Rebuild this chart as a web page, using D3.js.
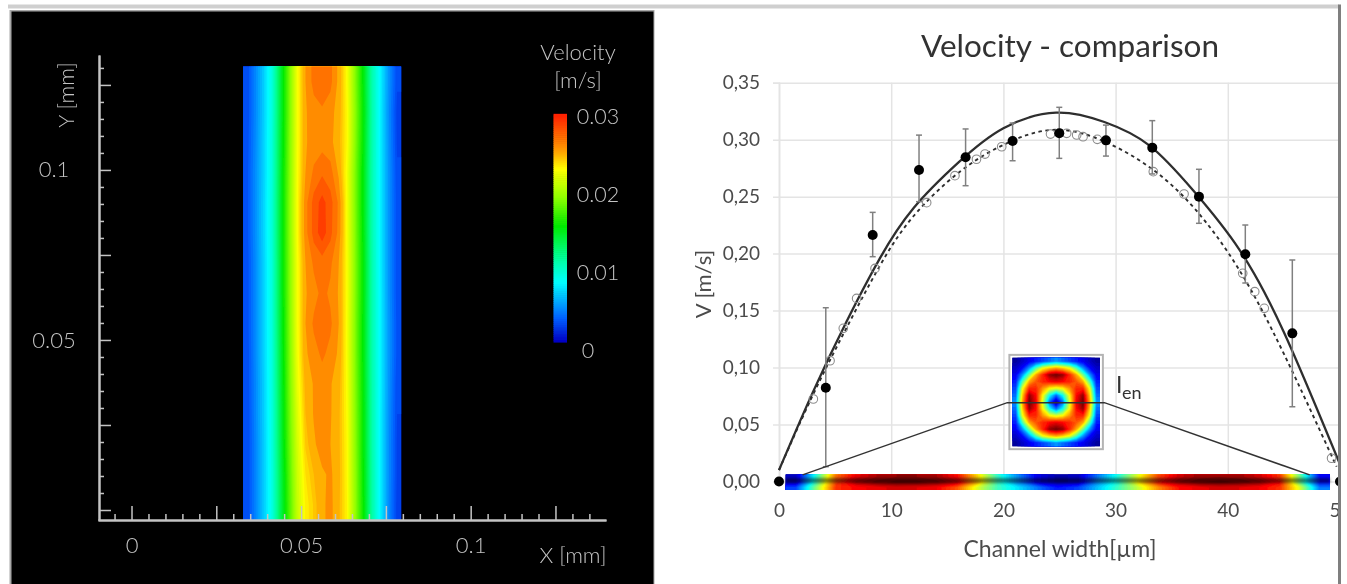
<!DOCTYPE html>
<html>
<head>
<meta charset="utf-8">
<title>Velocity</title>
<script src="https://cdn.jsdelivr.net/npm/d3@7"></script>
<style>
  html, body { margin: 0; padding: 0; background: #fff; overflow: hidden; }
  svg { display: block; }
  text { font-family: Lato, "Open Sans", sans-serif; }
</style>
</head>
<body>
<div id="chart"></div>
<script>
// left panel, velocity field in mm/s (rows top to bottom, columns left to right)
var fieldXExtent = [0.0329, 0.0795],
  fieldYExtent = [0.1304, -0.0029];
var fieldRows = [
  [3.6, 5.4, 7.5, 10.0, 14.5, 18.8, 23.0, 26.0, 27.4, 27.9, 27.3, 25.7, 23.2, 19.4, 15.6, 11.4, 8.6, 5.8, 3.6],
  [3.6, 5.4, 7.5, 10.0, 14.5, 18.8, 23.0, 25.9, 26.5, 26.8, 26.4, 25.5, 23.4, 19.6, 15.8, 11.5, 8.5, 5.6, 3.3],
  [3.7, 5.5, 7.6, 10.1, 14.6, 18.9, 23.0, 25.9, 26.4, 26.6, 26.3, 25.3, 23.4, 19.5, 15.7, 11.4, 8.5, 5.7, 3.4],
  [3.8, 5.6, 7.6, 10.1, 14.7, 19.0, 23.1, 26.0, 27.2, 27.8, 27.4, 25.8, 23.0, 19.2, 15.5, 11.3, 8.5, 5.8, 3.6],
  [3.8, 5.6, 7.7, 10.2, 14.8, 19.1, 23.2, 26.6, 28.4, 29.4, 28.4, 26.8, 23.1, 19.2, 15.5, 11.3, 8.5, 5.8, 3.7],
  [3.8, 5.6, 7.7, 10.2, 14.8, 19.1, 23.2, 26.6, 28.4, 29.6, 28.3, 26.7, 23.1, 19.3, 15.6, 11.3, 8.5, 5.8, 3.7],
  [3.7, 5.5, 7.6, 10.1, 14.7, 19.0, 23.0, 26.0, 27.2, 27.5, 27.2, 26.0, 23.2, 19.4, 15.7, 11.4, 8.5, 5.8, 3.7],
  [3.7, 5.5, 7.6, 10.1, 14.7, 19.0, 23.0, 25.9, 26.6, 27.3, 26.8, 25.9, 23.2, 19.4, 15.7, 11.4, 8.6, 5.8, 3.7],
  [3.7, 5.5, 7.6, 10.1, 14.6, 18.9, 23.0, 26.0, 27.2, 27.9, 27.2, 26.0, 23.1, 19.3, 15.6, 11.4, 8.6, 5.9, 3.8],
  [3.6, 5.5, 7.6, 10.0, 14.5, 18.8, 22.9, 25.8, 26.6, 27.2, 26.7, 25.8, 23.1, 19.3, 15.6, 11.4, 8.6, 5.9, 3.8],
  [3.6, 5.4, 7.5, 10.0, 14.4, 18.7, 22.6, 25.3, 26.1, 26.5, 26.1, 25.4, 23.2, 19.4, 15.7, 11.5, 8.6, 5.8, 3.6],
  [3.5, 5.4, 7.5, 9.9, 14.3, 18.5, 22.2, 25.0, 26.1, 26.8, 26.1, 25.2, 23.3, 19.5, 15.8, 11.5, 8.5, 5.7, 3.5],
  [3.5, 5.3, 7.4, 9.9, 14.2, 18.3, 21.9, 24.6, 25.8, 26.6, 26.0, 25.2, 23.4, 19.6, 15.8, 11.5, 8.5, 5.6, 3.4],
  [3.5, 5.3, 7.4, 9.8, 14.0, 18.0, 21.6, 24.0, 25.0, 25.8, 26.2, 25.3, 23.4, 19.7, 15.9, 11.6, 8.5, 5.6, 3.4],
  [3.5, 5.3, 7.4, 9.8, 13.9, 17.8, 21.4, 23.6, 24.6, 25.8, 26.3, 25.2, 23.5, 19.8, 16.0, 11.6, 8.5, 5.5, 3.3]
];
var fieldLevels = [1, 2, 3, 3.5, 4, 4.5, 5, 5.5, 6, 6.5, 7, 7.5, 8, 8.5, 9, 9.5, 10, 10.5, 11, 11.5, 12, 12.5, 13, 13.5, 14, 14.5, 15, 15.5, 16, 16.5, 17, 17.5, 18, 18.5, 19, 19.5, 20, 20.5, 21, 21.5, 22, 22.5, 23, 23.5, 24, 24.5, 25, 26, 27, 28, 29];
var legendStops = [1, 4, 8.6, 12, 15.8, 19.5, 23.1, 25, 26, 28, 30],
  legendColors = ['#0000c4', '#0060ff', '#00ffff', '#00ff90', '#00ea00', '#90ff00', '#ffff00', '#ffb000', '#ff8c00', '#ff5800', '#ff2000'];
var legendTicks = [0, 10, 20, 30],
  legendLabels = ['0', '0.01', '0.02', '0.03'];
var fieldMajorY = [0, 0.025, 0.05, 0.075, 0.1, 0.125],
  fieldMinorY = [0.005, 0.01, 0.015, 0.02, 0.03, 0.035, 0.04, 0.045, 0.055, 0.06, 0.065, 0.07, 0.08, 0.085, 0.09, 0.095, 0.105, 0.11, 0.115, 0.12, 0.13],
  fieldLabelsY = ['', '', '0.05', '', '0.1', ''];
var fieldMajorX = [0, 0.025, 0.05, 0.075, 0.1, 0.125],
  fieldMinorX = [-0.005, 0.005, 0.01, 0.015, 0.02, 0.03, 0.035, 0.04, 0.045, 0.055, 0.06, 0.065, 0.07, 0.08, 0.085, 0.09, 0.095, 0.105, 0.11, 0.115, 0.12, 0.13, 0.135],
  fieldLabelsX = ['0', '', '0.05', '', '0.1', ''];

// right panel, channel width in um and velocity in m/s
var widthTicks = [0, 10, 20, 30, 40, 50],
  velocityTicks = [0, 0.05, 0.1, 0.15, 0.2, 0.25, 0.3, 0.35],
  velocityLabels = ['0,00', '0,05', '0,10', '0,15', '0,20', '0,25', '0,30', '0,35'];
var solidX = [0, 3, 6, 9, 12, 16, 20, 24.7, 29, 33, 37, 41, 45, 50],
  solidV = [0.01, 0.078, 0.14, 0.196, 0.24, 0.28, 0.31, 0.3237, 0.3155, 0.295, 0.2545, 0.204, 0.131, 0.015];
var dashedX = [0, 3, 6, 9, 12, 16, 20, 24.2, 28.5, 33, 37, 41, 45, 49.7],
  dashedV = [0.01, 0.0755, 0.1345, 0.1895, 0.233, 0.271, 0.2955, 0.3085, 0.3005, 0.276, 0.24, 0.186, 0.112, 0.013];
var openX = [3.06, 4.55, 5.73, 6.92, 8.56, 13.16, 15.68, 17.6, 18.36, 19.85, 24.2, 25.64, 26.53, 27.1, 28.37, 33.36, 36.1, 41.33, 42.4, 43.25, 49.25],
  openV = [0.0724, 0.106, 0.1344, 0.1607, 0.187, 0.2447, 0.2684, 0.2828, 0.2874, 0.2938, 0.3049, 0.3056, 0.3041, 0.3026, 0.3003, 0.2719, 0.2523, 0.1827, 0.1666, 0.152, 0.0204];
var measuredX = [0, 4.17, 8.35, 12.48, 16.63, 20.82, 24.98, 29.14, 33.27, 37.43, 41.56, 45.75, 50],
  measuredV = [0, 0.0823, 0.2163, 0.2734, 0.2845, 0.2988, 0.3056, 0.2994, 0.293, 0.25, 0.1994, 0.13, 0],
  measuredHigh = [0, 0.1525, 0.2362, 0.304, 0.3094, 0.3146, 0.3284, 0.3128, 0.3167, 0.274, 0.2251, 0.1944, 0],
  measuredLow = [0, 0.013, 0.1973, 0.2456, 0.2596, 0.2815, 0.2836, 0.2856, 0.2699, 0.2266, 0.1742, 0.0656, 0];

// cross section colour values, 0 to 1 on the jet map
var insetRows = [
  [0.04, 0.08, 0.12, 0.16, 0.20, 0.24, 0.28, 0.24, 0.20, 0.16, 0.12, 0.08, 0.04],
  [0.08, 0.14, 0.28, 0.46, 0.62, 0.68, 0.72, 0.68, 0.62, 0.46, 0.28, 0.14, 0.08],
  [0.12, 0.28, 0.50, 0.72, 0.85, 0.97, 1.00, 0.97, 0.85, 0.72, 0.50, 0.28, 0.12],
  [0.16, 0.46, 0.72, 0.80, 0.85, 0.88, 0.90, 0.88, 0.85, 0.80, 0.72, 0.46, 0.16],
  [0.20, 0.62, 0.85, 0.85, 0.74, 0.64, 0.60, 0.64, 0.74, 0.85, 0.85, 0.62, 0.20],
  [0.24, 0.68, 0.97, 0.88, 0.64, 0.40, 0.24, 0.40, 0.64, 0.88, 0.97, 0.68, 0.24],
  [0.28, 0.72, 1.00, 0.90, 0.60, 0.24, 0.04, 0.24, 0.60, 0.90, 1.00, 0.72, 0.28],
  [0.24, 0.68, 0.97, 0.88, 0.64, 0.40, 0.24, 0.40, 0.64, 0.88, 0.97, 0.68, 0.24],
  [0.20, 0.62, 0.85, 0.85, 0.74, 0.64, 0.60, 0.64, 0.74, 0.85, 0.85, 0.62, 0.20],
  [0.16, 0.46, 0.72, 0.80, 0.85, 0.88, 0.90, 0.88, 0.85, 0.80, 0.72, 0.46, 0.16],
  [0.12, 0.28, 0.50, 0.72, 0.85, 0.97, 1.00, 0.97, 0.85, 0.72, 0.50, 0.28, 0.12],
  [0.08, 0.14, 0.28, 0.46, 0.62, 0.68, 0.72, 0.68, 0.62, 0.46, 0.28, 0.14, 0.08],
  [0.04, 0.08, 0.12, 0.16, 0.20, 0.24, 0.28, 0.24, 0.20, 0.16, 0.12, 0.08, 0.04]
];
var stripTop = [0.08, 0.42, 0.78, 0.9, 0.95, 0.97, 0.97, 0.95, 0.88, 0.68, 0.44, 0.28, 0.12, 0.06, 0.08, 0.26, 0.42, 0.62, 0.82, 0.92, 0.96, 0.97, 0.96, 0.92, 0.84, 0.5, 0.14],
  stripMid = [0.08, 0.45, 0.82, 0.94, 0.98, 1, 1, 0.98, 0.92, 0.7, 0.45, 0.28, 0.12, 0.06, 0.08, 0.28, 0.42, 0.65, 0.86, 0.95, 0.99, 1, 0.99, 0.96, 0.88, 0.5, 0.15],
  stripBottom = [0.2, 0.52, 0.84, 0.88, 0.9, 0.92, 0.91, 0.89, 0.8, 0.6, 0.45, 0.36, 0.25, 0.15, 0.2, 0.33, 0.45, 0.58, 0.75, 0.87, 0.9, 0.92, 0.91, 0.89, 0.84, 0.6, 0.25];
var stripExtent = [0.6, 49.1],
  insetWidthExtent = [20.8, 28.6],
  insetVelocityExtent = [0.1085, 0.0310];
// zoom lines from the strip up to the inset and across it
var zoomLineX = [2.1, 20.35, 29.0, 47.3],
  zoomLineV = [0.0058, 0.0692, 0.0692, 0.0058];

var width = 1347,
  height = 584;

var svg = d3.select('#chart').append('svg').attr('width', width).attr('height', height);
var defs = svg.append('defs');

defs.append('filter').attr('id', 'soft').attr('filterUnits', 'userSpaceOnUse')
  .attr('x', 0).attr('y', 0).attr('width', width).attr('height', height)
  .append('feGaussianBlur').attr('stdDeviation', 0.75);
defs.append('filter').attr('id', 'softer').attr('filterUnits', 'userSpaceOnUse')
  .attr('x', 700).attr('y', 460).attr('width', 640).attr('height', 40)
  .append('feGaussianBlur').attr('stdDeviation', 1.8);
defs.append('clipPath').attr('id', 'plotClip').append('rect')
  .attr('x', 690).attr('y', 0).attr('width', 648).attr('height', height);

var root = svg.append('g').attr('filter', 'url(#soft)');

// frame of the pasted pictures
root.append('rect').attr('x', 8).attr('y', 4.5).attr('width', 1331).attr('height', 4).attr('fill', '#cfcfcf');
root.append('rect').attr('x', 9.5).attr('y', 10).attr('width', 645).attr('height', height).attr('fill', '#a8a8a8');
root.append('rect').attr('x', 11.5).attr('y', 11.5).attr('width', 642).attr('height', height).attr('fill', '#000');

/* Left panel */
var xLeft = d3.scaleLinear().domain([-0.00988, 0.1399]).range([98, 606]),
  yLeft = d3.scaleLinear().domain([-0.00294, 0.1338]).range([520, 55]);
var legendY = d3.scaleLinear().domain([0, 30]).range([350, 116]);
var velColor = d3.scaleLinear().domain(legendStops).range(legendColors).clamp(true);

var clipCount = 0;

// contours round off at the grid border, so repeat the edge values and clip
function padRows(rows) {
  var wide = rows.map(function(row) {
    return [row[0]].concat(row, [row[row.length - 1]]);
  });
  return [wide[0]].concat(wide, [wide[wide.length - 1]]);
}

function drawContours(parent, rows, levels, color, xExtent, yExtent) {
  var cols = rows[0].length,
    padded = padRows(rows),
    clipId = 'gridClip' + (clipCount++);
  var cx = d3.scaleLinear().domain([1, cols + 1]).range(xExtent),
    cy = d3.scaleLinear().domain([1, rows.length + 1]).range(yExtent);
  var contours = d3.contours().size([cols + 2, rows.length + 2]).thresholds(levels)(d3.merge(padded));
  var path = d3.geoPath(d3.geoTransform({
    point: function(x, y) {
      this.stream.point(cx(x), cy(y));
    }
  }));
  defs.append('clipPath').attr('id', clipId).append('rect')
    .attr('x', xExtent[0]).attr('y', yExtent[0])
    .attr('width', xExtent[1] - xExtent[0]).attr('height', yExtent[1] - yExtent[0]);
  parent.attr('clip-path', 'url(#' + clipId + ')')
    .selectAll('path.level').data(contours).enter().append('path')
    .attr('class', 'level')
    .attr('d', path)
    .attr('fill', function(d) { return color(d.value); });
}

drawContours(root.append('g'), fieldRows, fieldLevels, velColor,
  [xLeft(fieldXExtent[0]), xLeft(fieldXExtent[1])], [yLeft(fieldYExtent[0]), yLeft(fieldYExtent[1])]);

var leftColor = '#c4c4c4';

function styleLeftAxis(g) {
  g.select('.domain').attr('stroke', leftColor).attr('stroke-width', 2);
  g.selectAll('.tick line').attr('stroke', leftColor).attr('stroke-width', 1.5);
  g.selectAll('.tick text').attr('fill', leftColor).attr('font-size', 22).attr('font-weight', 300).attr('text-anchor', 'middle');
}

root.append('g').attr('transform', 'translate(99,0)')
  .call(d3.axisLeft(yLeft).tickValues(fieldMinorY).tickSize(-5).tickSizeOuter(0).tickFormat(''))
  .call(styleLeftAxis);
root.append('g').attr('transform', 'translate(99,0)')
  .call(d3.axisLeft(yLeft).tickValues(fieldMajorY).tickSize(-12).tickSizeOuter(0)
    .tickFormat(function(d, i) { return fieldLabelsY[i]; }))
  .call(styleLeftAxis)
  .selectAll('.tick text').attr('x', -45);
root.append('g').attr('transform', 'translate(0,520)')
  .call(d3.axisBottom(xLeft).tickValues(fieldMinorX).tickSize(-6).tickSizeOuter(0).tickFormat(''))
  .call(styleLeftAxis);
root.append('g').attr('transform', 'translate(0,520)')
  .call(d3.axisBottom(xLeft).tickValues(fieldMajorX).tickSize(-14).tickSizeOuter(0)
    .tickFormat(function(d, i) { return fieldLabelsX[i]; }))
  .call(styleLeftAxis)
  .selectAll('.tick text').attr('y', 17);

function leftText(x, y, label) {
  return root.append('text').attr('x', x).attr('y', y)
    .attr('text-anchor', 'middle').attr('fill', leftColor).attr('font-size', 22).attr('font-weight', 300).text(label);
}

leftText(0, 0, 'Y [mm]').attr('transform', 'translate(74,95) rotate(-90)');
leftText(573, 563, 'X [mm]');
leftText(578, 60, 'Velocity');
leftText(578, 88, '[m/s]');

// colour bar
var legendValues = d3.range(1, 30.01, 0.25);
root.append('g').selectAll('rect').data(legendValues).enter().append('rect')
  .attr('x', 553.5)
  .attr('y', function(d) { return legendY(d) - 2.2; })
  .attr('width', 13.5)
  .attr('height', 2.6)
  .attr('fill', function(d) { return velColor(d); });
root.append('g').selectAll('text').data(legendTicks).enter().append('text')
  .attr('x', function(d) { return d === 0 ? 588 : 598; })
  .attr('y', function(d) { return legendY(d); })
  .attr('dy', '.35em')
  .attr('text-anchor', 'middle')
  .attr('fill', leftColor)
  .attr('font-size', 21.5)
  .attr('font-weight', 300)
  .text(function(d, i) { return legendLabels[i]; });

/* Right panel */
var plot = root.append('g').attr('clip-path', 'url(#plotClip)');
var xRight = d3.scaleLinear().domain([0, 50]).range([779, 1340]),
  yRight = d3.scaleLinear().domain([0, 0.35]).range([481.5, 82.7]);
var jetColor = d3.scaleLinear()
  .domain([0, 0.125, 0.375, 0.5, 0.625, 0.875, 1])
  .range(['#00007f', '#0000ff', '#00ffff', '#7fff7f', '#ffff00', '#ff0000', '#5f0000']);

var gridColor = '#e4e4e4',
  inkColor = '#4c4c4c';

var yAxis = plot.append('g').attr('transform', 'translate(779,0)')
  .call(d3.axisLeft(yRight).tickValues(velocityTicks).tickSize(6).tickPadding(13)
    .tickFormat(function(d, i) { return velocityLabels[i]; }));
yAxis.select('.domain').attr('stroke', gridColor).attr('stroke-width', 1.5);
yAxis.selectAll('.tick line').attr('x2', 560).attr('x1', -6).attr('stroke', gridColor).attr('stroke-width', 1.5);
yAxis.selectAll('.tick text').attr('fill', inkColor).attr('font-size', 19);

var xAxis = plot.append('g').attr('transform', 'translate(0,481.5)')
  .call(d3.axisBottom(xRight).tickValues(widthTicks).tickSize(0).tickPadding(22).tickSizeOuter(0).tickFormat(d3.format('d')));
xAxis.select('.domain').attr('stroke', 'none');
xAxis.selectAll('.tick line').attr('y1', 0).attr('y2', yRight(0.35) - yRight(0)).attr('stroke', gridColor).attr('stroke-width', 1.5);
xAxis.selectAll('.tick text').attr('fill', inkColor).attr('font-size', 19);

function rowsToPoints(xs, ys) {
  return xs.map(function(x, i) { return [xRight(x), yRight(ys[i])]; });
}

var curveLine = d3.line().curve(d3.curveNatural);

plot.append('path').attr('d', curveLine(rowsToPoints(solidX, solidV)))
  .attr('fill', 'none').attr('stroke', '#2e2e2e').attr('stroke-width', 2.3);
plot.append('path').attr('d', curveLine(rowsToPoints(dashedX, dashedV)))
  .attr('fill', 'none').attr('stroke', '#2e2e2e').attr('stroke-width', 1.9).attr('stroke-dasharray', '3.5 3.5');

plot.append('g').selectAll('circle').data(openX).enter().append('circle')
  .attr('cx', function(d) { return xRight(d); })
  .attr('cy', function(d, i) { return yRight(openV[i]); })
  .attr('r', 4.3)
  .attr('fill', 'none')
  .attr('stroke', '#8c8c8c')
  .attr('stroke-width', 1.1);

// error bars
var errGroup = plot.append('g').attr('stroke', '#808080').attr('stroke-width', 1.5);
errGroup.selectAll('line.stem').data(measuredX).enter().append('line')
  .attr('class', 'stem')
  .attr('x1', function(d) { return xRight(d); })
  .attr('x2', function(d) { return xRight(d); })
  .attr('y1', function(d, i) { return yRight(measuredHigh[i]); })
  .attr('y2', function(d, i) { return yRight(measuredLow[i]); });
errGroup.selectAll('line.high').data(measuredX).enter().append('line')
  .attr('class', 'high')
  .attr('x1', function(d) { return xRight(d) - 3; })
  .attr('x2', function(d) { return xRight(d) + 3; })
  .attr('y1', function(d, i) { return yRight(measuredHigh[i]); })
  .attr('y2', function(d, i) { return yRight(measuredHigh[i]); });
errGroup.selectAll('line.low').data(measuredX).enter().append('line')
  .attr('class', 'low')
  .attr('x1', function(d) { return xRight(d) - 3; })
  .attr('x2', function(d) { return xRight(d) + 3; })
  .attr('y1', function(d, i) { return yRight(measuredLow[i]); })
  .attr('y2', function(d, i) { return yRight(measuredLow[i]); });

// strip along the channel
var stripX = [xRight(stripExtent[0]), xRight(stripExtent[1])];
drawContours(plot.append('g'), [stripTop, stripMid, stripBottom], d3.range(0.01, 1, 0.02), jetColor, stripX, [474.5, 490]);
plot.append('line')
  .attr('x1', stripX[0]).attr('x2', stripX[1])
  .attr('y1', 480.5).attr('y2', 480.5)
  .attr('stroke', '#000').attr('stroke-opacity', 0.5).attr('stroke-width', 5)
  .attr('filter', 'url(#softer)');

plot.append('g').selectAll('circle').data(measuredX).enter().append('circle')
  .attr('cx', function(d) { return xRight(d); })
  .attr('cy', function(d, i) { return yRight(measuredV[i]); })
  .attr('r', 5)
  .attr('fill', '#000');

// inset picture
var insetX = [xRight(insetWidthExtent[0]), xRight(insetWidthExtent[1])],
  insetY = [yRight(insetVelocityExtent[0]), yRight(insetVelocityExtent[1])];
plot.append('rect')
  .attr('x', insetX[0] - 3).attr('y', insetY[0] - 3)
  .attr('width', insetX[1] - insetX[0] + 6).attr('height', insetY[1] - insetY[0] + 6)
  .attr('fill', '#fff').attr('stroke', '#b4b4b4').attr('stroke-width', 2);
drawContours(plot.append('g'), insetRows, d3.range(0.01, 1, 0.02), jetColor, insetX, insetY);

plot.append('path').attr('d', d3.line()(rowsToPoints(zoomLineX, zoomLineV)))
  .attr('fill', 'none').attr('stroke', '#333').attr('stroke-width', 1.5);

plot.append('text').attr('x', 1116).attr('y', 393).attr('fill', '#333').attr('font-size', 23).text('I');
plot.append('text').attr('x', 1122).attr('y', 399).attr('fill', '#333').attr('font-size', 18).text('en');

root.append('text').attr('x', 1070).attr('y', 57)
  .attr('text-anchor', 'middle').attr('fill', '#333').attr('font-size', 31.5).text('Velocity - comparison');
root.append('text').attr('x', 1060).attr('y', 557)
  .attr('text-anchor', 'middle').attr('fill', inkColor).attr('font-size', 23).text('Channel width[µm]');
root.append('text').attr('transform', 'translate(711,284) rotate(-90)')
  .attr('text-anchor', 'middle').attr('fill', inkColor).attr('font-size', 22).text('V [m/s]');

root.append('rect').attr('x', 1338).attr('y', 4.5).attr('width', 3).attr('height', height).attr('fill', '#7f7f7f');
</script>
</body>
</html>
